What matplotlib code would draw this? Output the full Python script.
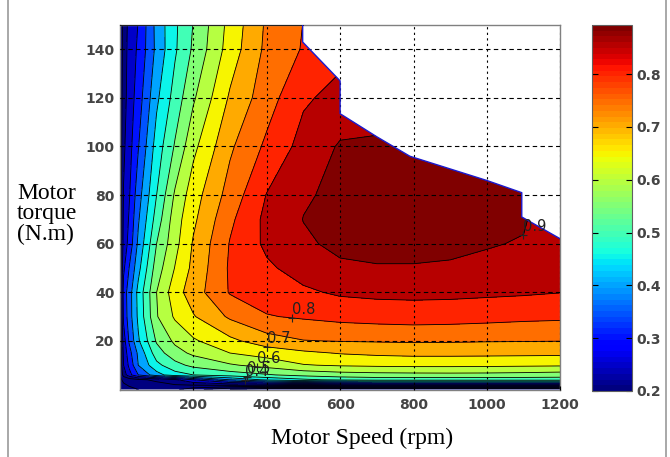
import matplotlib
matplotlib.use("Agg")
import matplotlib.pyplot as plt
import numpy as np
from matplotlib import colors as mcolors
from matplotlib.cm import ScalarMappable
from matplotlib.lines import Line2D
from matplotlib.patches import Polygon
from matplotlib.transforms import offset_copy

# efficiency map (rows = torque, cols = speed)
speed_rpm = [0, 10, 25, 50, 100, 150, 200, 300, 400, 500, 600, 700, 800, 900, 1000, 1100, 1200]
torque_nm = [0, 4, 6, 10, 15, 20, 30, 40, 50, 60, 70, 80, 100, 120, 140, 150]
efficiency = [
    [0.12, 0.13, 0.14, 0.15, 0.16, 0.16, 0.12, 0.05, 0.00, 0.00, 0.00, 0.00, 0.00, 0.00, 0.00, 0.00, 0.00],
    [0.14, 0.16, 0.17, 0.19, 0.21, 0.24, 0.30, 0.40, 0.46, 0.49, 0.51, 0.52, 0.52, 0.52, 0.52, 0.52, 0.52],
    [0.15, 0.22, 0.28, 0.35, 0.43, 0.48, 0.50, 0.525, 0.545, 0.565, 0.578, 0.583, 0.585, 0.586, 0.585, 0.582, 0.577],
    [0.16, 0.25, 0.31, 0.40, 0.486, 0.533, 0.563, 0.594, 0.618, 0.647, 0.655, 0.659, 0.661, 0.661, 0.660, 0.658, 0.656],
    [0.16, 0.26, 0.33, 0.41, 0.527, 0.581, 0.610, 0.650, 0.671, 0.690, 0.703, 0.710, 0.714, 0.714, 0.713, 0.712, 0.711],
    [0.16, 0.275, 0.355, 0.443, 0.556, 0.610, 0.643, 0.688, 0.728, 0.748, 0.752, 0.754, 0.756, 0.755, 0.753, 0.752, 0.751],
    [0.16, 0.31, 0.375, 0.46, 0.596, 0.657, 0.696, 0.758, 0.797, 0.806, 0.815, 0.820, 0.823, 0.821, 0.817, 0.812, 0.809],
    [0.16, 0.32, 0.375, 0.465, 0.600, 0.678, 0.726, 0.804, 0.824, 0.842, 0.857, 0.862, 0.863, 0.862, 0.859, 0.856, 0.851],
    [0.16, 0.29, 0.35, 0.434, 0.575, 0.652, 0.713, 0.807, 0.842, 0.870, 0.893, 0.897, 0.897, 0.895, 0.890, 0.885, 0.870],
    [0.16, 0.268, 0.316, 0.41, 0.550, 0.634, 0.705, 0.803, 0.860, 0.893, 0.910, 0.914, 0.914, 0.910, 0.903, 0.897, 0.880],
    [0.16, 0.26, 0.305, 0.394, 0.522, 0.626, 0.690, 0.790, 0.863, 0.901, 0.912, 0.917, 0.917, 0.915, 0.912, 0.905, 0.860],
    [0.16, 0.253, 0.294, 0.379, 0.500, 0.607, 0.678, 0.770, 0.852, 0.895, 0.910, 0.915, 0.915, 0.914, 0.911, 0.905, 0.860],
    [0.16, 0.24, 0.28, 0.347, 0.472, 0.555, 0.637, 0.742, 0.810, 0.868, 0.905, 0.906, 0.905, 0.900, 0.895, 0.890, 0.860],
    [0.16, 0.23, 0.27, 0.325, 0.440, 0.520, 0.593, 0.707, 0.778, 0.843, 0.866, 0.880, 0.880, 0.880, 0.880, 0.880, 0.860],
    [0.16, 0.22, 0.27, 0.308, 0.413, 0.493, 0.558, 0.673, 0.762, 0.804, 0.835, 0.850, 0.860, 0.860, 0.860, 0.860, 0.860],
    [0.16, 0.22, 0.264, 0.302, 0.416, 0.491, 0.552, 0.667, 0.758, 0.801, 0.825, 0.840, 0.850, 0.850, 0.850, 0.850, 0.850],
]

# max torque envelope (white area above it)
envelope_speed = [0, 0, 498, 498, 600, 600, 700, 790, 1000, 1095, 1095, 1200, 1200]
envelope_torque = [0, 150, 150, 143, 127, 113.5, 104, 96, 86, 81, 71, 62, 0]

label_levels = [0.4, 0.5, 0.6, 0.7, 0.8, 0.9]
label_spots = [(341, 2.5), (345, 4.0), (372, 8.5), (400, 15.5), (468, 28.6), (1100, 63)]

x_ticks = [200, 400, 600, 800, 1000, 1200]
y_ticks = [20, 40, 60, 80, 100, 120, 140]
cbar_ticks = [0.2, 0.3, 0.4, 0.5, 0.6, 0.7, 0.8]

VMIN, VMAX = 0.2, 0.893
line_levels = np.round(np.arange(0.05, 0.901, 0.05), 2)
fill_levels = np.concatenate([[-0.5], line_levels, [1.0]])

cmap = plt.get_cmap("jet", 64)
norm = mcolors.Normalize(VMIN, VMAX)
# MATLAB style: each band takes the colour of its lower level
band_colors = [cmap(norm(max(lv, VMIN))) for lv in fill_levels[:-1]]


def nearest_on_path(verts, spot, trans):
    # closest point to spot on the polyline (measured in screen pixels)
    pts = trans.transform(verts)
    p = trans.transform(spot)
    best, best_d = verts[0], np.inf
    for a, b in zip(pts[:-1], pts[1:]):
        ab = b - a
        L = ab @ ab
        if L == 0 or np.hypot(*ab) > 60:
            continue
        t = np.clip((p - a) @ ab / L, 0, 1)
        q = a + t * ab
        d = np.hypot(*(q - p))
        if d < best_d:
            best_d, best = d, q
    return trans.inverted().transform(best)


fig = plt.figure(figsize=(6.7, 4.57), dpi=100)
W, H = 670, 457
ax = fig.add_axes([119.9 / W, 1 - 389.5 / H, 440.4 / W, 364.5 / H])
ax.set_xlim(0, 1200)
ax.set_ylim(0, 150)

S, T = np.meshgrid(speed_rpm, torque_nm)
Z = np.array(efficiency)

clip = Polygon(np.column_stack([envelope_speed, envelope_torque]), closed=True,
               transform=ax.transData, facecolor="none", edgecolor="none")

cf = ax.contourf(S, T, Z, levels=fill_levels, colors=band_colors)
cl = ax.contour(S, T, Z, levels=line_levels, colors="k", linewidths=0.6)
cf.set_clip_path(clip)
cl.set_clip_path(clip)

ax.plot(envelope_speed[1:3], envelope_torque[1:3], color="#202020", lw=1.4, zorder=3)
ax.plot(envelope_speed[2:-1], envelope_torque[2:-1], color="#1a1ad0", lw=1.0, zorder=3)

# contour labels, MATLAB look: '+' on the line, text up-right of it
lab_trans = offset_copy(ax.transData, fig=fig, x=0, y=1, units="dots")
paths = cl.get_paths()
for lv, spot in zip(label_levels, label_spots):
    idx = int(np.argmin(np.abs(line_levels - lv)))
    px, py = nearest_on_path(paths[idx].vertices, spot, ax.transData)
    ax.plot([px], [py], marker="+", color="#222222", ms=6, mew=0.8, zorder=4)
    ax.text(px, py, f"{lv:.1f}", transform=lab_trans, ha="left", va="bottom",
            fontsize=10.5, color="#222222", zorder=4)

ax.set_xticks(x_ticks)
ax.set_yticks(y_ticks)
ax.set_axisbelow(False)
ax.xaxis.grid(True, color="k", linestyle=(0, (2, 3)), linewidth=0.8)
ax.yaxis.grid(True, color="k", linestyle=(0, (4, 3)), linewidth=0.8)
ax.tick_params(direction="in", length=3, labelsize=10, labelcolor="#444444",
               top=False, right=False)
ax.tick_params(axis="x", pad=6)
ax.tick_params(axis="y", pad=4)
for lab in ax.get_xticklabels() + ax.get_yticklabels():
    lab.set_fontweight("bold")
for sp in ax.spines.values():
    sp.set_color("#808080")
    sp.set_linewidth(1.0)

cax = fig.add_axes([592 / W, 1 - 391 / H, 40 / W, 366 / H])
sm = ScalarMappable(norm=norm, cmap=cmap)
cb = fig.colorbar(sm, cax=cax, ticks=cbar_ticks)
cb.outline.set_edgecolor("#606060")
cax.tick_params(direction="in", length=4, left=True, right=True, labelsize=10,
                labelcolor="#444444", pad=3)
for lab in cax.get_yticklabels():
    lab.set_fontweight("bold")

fig.text(362 / W, 1 - 438 / H, "Motor Speed (rpm)", ha="center", va="center",
         family="Liberation Serif", fontsize=17)
fig.text(17 / W, 1 - 214 / H, "Motor\ntorque\n(N.m)", ha="left", va="center",
         family="Liberation Serif", fontsize=17, linespacing=0.95)

# thin grey frame on the sides of the picture
for xf in (7.5 / W, 666 / W):
    fig.add_artist(Line2D([xf, xf], [0, 1], transform=fig.transFigure,
                          color="#9a9a9a", lw=1.2))

fig.savefig("out.png", dpi=100)
